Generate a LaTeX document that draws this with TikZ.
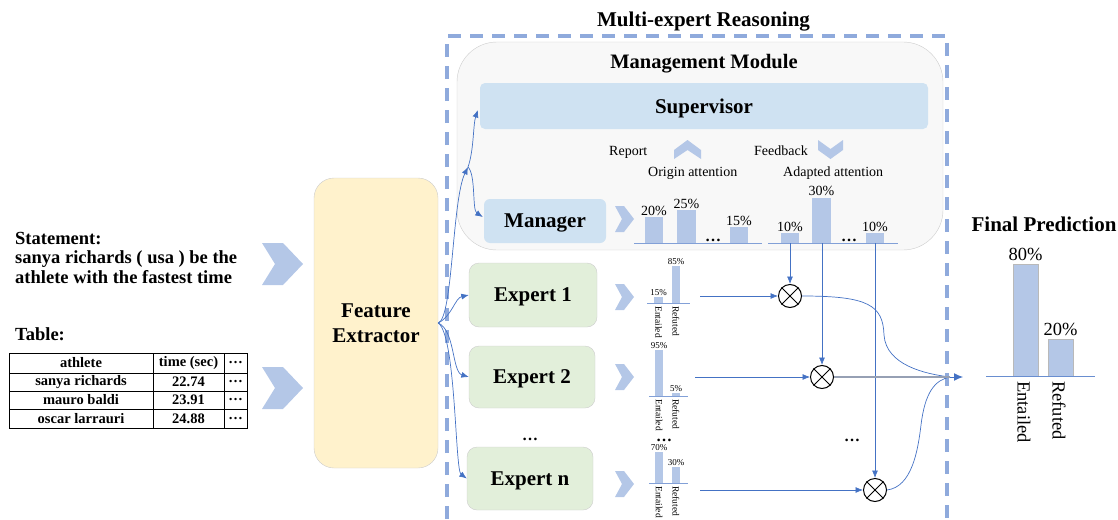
\documentclass[tikz,border=0pt]{standalone}
\usepackage{fontspec}
\setmainfont{Liberation Serif}
\usetikzlibrary{arrows.meta,calc}
\definecolor{barblue}{RGB}{180,199,231}
\definecolor{linkblue}{RGB}{68,114,196}
\definecolor{dashblue}{RGB}{143,170,220}
\definecolor{boxblue}{RGB}{207,226,242}
\definecolor{mgmtfill}{RGB}{248,248,248}
\definecolor{mgmtline}{RGB}{205,205,205}
\definecolor{fefill}{RGB}{255,242,204}
\definecolor{expfill}{RGB}{226,239,218}
\definecolor{axisblue}{RGB}{130,160,215}
\definecolor{greyline}{RGB}{150,160,180}
\newcommand\fsz[1]{\fontsize{#1}{#1}\selectfont}
\newcommand\chevR[6]{\fill[chev] (#1,#2-#4/2) -- (#1+#5,#2-#4/2) -- (#1+#3,#2) -- (#1+#5,#2+#4/2) -- (#1,#2+#4/2) -- (#1+#6,#2) -- cycle;}
\begin{document}
\begin{tikzpicture}[x=1pt,y=-1pt,
  chev/.style={fill=barblue},
  bar/.style={fill=barblue},
  axis/.style={draw=axisblue,line width=0.8pt},
  lnk/.style={draw=linkblue,line width=0.7pt,-{Latex[length=7.5pt,width=6pt]}},
  plain/.style={draw=linkblue,line width=0.7pt},
  otimes/.style={circle,draw=black,line width=1pt,minimum size=23pt,inner sep=0pt},
  bigtitle/.style={font=\bfseries\fsz{21},inner sep=0pt,anchor=base},
  boxtext/.style={font=\bfseries\fsz{21},text depth=0pt,inner sep=0pt},
  lbl/.style={font=\fsz{14},inner sep=0pt,anchor=base},
  mini/.style={font=\fsz{9},inner sep=0pt,anchor=base},
  minirot/.style={font=\fsz{9.5},inner sep=0pt,anchor=west,rotate=-90},
  bigrot/.style={font=\fsz{18.5},inner sep=0pt,anchor=west,rotate=-90},
  stm/.style={font=\bfseries\fsz{18.5},inner sep=0pt,anchor=base west},
  tcell/.style={font=\bfseries\fsz{14.5},inner sep=0pt},
  dotsn/.style={font=\bfseries\fsz{16},inner sep=0pt,anchor=base}
]
\useasboundingbox (0,0) rectangle (1118,519);

% dashed frame
\draw[dashblue,line width=3.8pt,dash pattern=on 13pt off 9pt] (447,519) -- (447,36) -- (947,36) -- (947,519);
\node[bigtitle] (ttl) at (703.5,27) {Multi-expert Reasoning};

% management module
\node[draw=mgmtline,fill=mgmtfill,rounded corners=40pt,minimum width=486pt,minimum height=208pt] (mgmt) at (700,146) {};
\node[font=\bfseries\fsz{20.5},inner sep=0pt,anchor=base] (mgmtt) at (704,68) {Management Module};
\node[boxtext,fill=boxblue,rounded corners=5pt,minimum width=448pt,minimum height=46pt] (sup) at (704,106) {Supervisor};
\node[boxtext,fill=boxblue,rounded corners=6pt,minimum width=122pt,minimum height=44pt] (mgr) at (545,221) {Manager};

\node[lbl,anchor=base west] (rep) at (609,155) {Report};
\node[lbl,anchor=base west] (fb) at (754,155) {Feedback};
\fill[chev] (674,150) -- (687.5,140) -- (701,150) -- (701,159) -- (687.5,150) -- (674,159) -- cycle;
\fill[chev] (818,140) -- (830.5,149) -- (843,140) -- (843,150) -- (830.5,159) -- (818,150) -- cycle;
\node[lbl,anchor=base west] (oa) at (648,176) {Origin attention};
\node[lbl,anchor=base west] (aa) at (783,176) {Adapted attention};

% manager chevron and origin bars
\chevR{615}{219}{19}{26}{9}{7}
\fill[bar] (645,217) rectangle (663,243);
\fill[bar] (677,210) rectangle (696,243);
\fill[bar] (730,227) rectangle (748,243);
\draw[axis] (634,243) -- (762,243);
\node[lbl] (p20) at (654,215) {20\%};
\node[lbl] (p25) at (686.5,208) {25\%};
\node[lbl] (p15) at (739,225) {15\%};
\node[dotsn] (od) at (713,241) {\dots};
% adapted bars
\fill[bar] (781,233) rectangle (799,243);
\fill[bar] (812,198) rectangle (831,243);
\fill[bar] (866,233) rectangle (884,243);
\draw[axis] (768,243) -- (898,243);
\node[lbl] (q10a) at (790,231) {10\%};
\node[lbl] (q30) at (821.5,195) {30\%};
\node[lbl] (q10b) at (875,231) {10\%};
\node[dotsn] (ad) at (849,241) {\dots};

% left inputs
\node[stm] (st1) at (15,244) {Statement:};
\node[stm] (st2) at (15,263.5) {sanya richards ( usa ) be the};
\node[stm] (st3) at (15,283) {athlete with the fastest time};
\node[stm] (tb) at (15,340) {Table:};
\draw[line width=0.6pt] (9,353) rectangle (247,428);
\draw[line width=0.6pt] (9,373) -- (247,373) (9,391) -- (247,391) (9,409) -- (247,409);
\draw[line width=0.6pt] (153,353) -- (153,428) (224,353) -- (224,428);
\node[tcell] (h1) at (81,363) {athlete};
\node[tcell] (h2) at (188.5,363) {time (sec)};
\node[tcell] (h3) at (235.5,363) {\dots};
\node[tcell] (r11) at (81,382) {sanya richards};
\node[tcell] (r12) at (188.5,382) {22.74};
\node[tcell] (r13) at (235.5,382) {\dots};
\node[tcell] (r21) at (81,400) {mauro baldi};
\node[tcell] (r22) at (188.5,400) {23.91};
\node[tcell] (r23) at (235.5,400) {\dots};
\node[tcell] (r31) at (81,418.5) {oscar larrauri};
\node[tcell] (r32) at (188.5,418.5) {24.88};
\node[tcell] (r33) at (235.5,418.5) {\dots};
\chevR{262}{264}{41}{42}{21}{13}
\chevR{262}{388}{41}{42}{21}{13}

% feature extractor
\node[draw=mgmtline,fill=fefill,rounded corners=20pt,minimum width=124pt,minimum height=290pt,
      font=\bfseries\fontsize{21}{25}\selectfont,align=center,text depth=0pt] (fe) at (376,323) {Feature\\Extractor};

% experts
\node[boxtext,draw=mgmtline,fill=expfill,rounded corners=10pt,minimum width=128pt,minimum height=64pt] (e1) at (533,295) {Expert 1};
\node[boxtext,draw=mgmtline,fill=expfill,rounded corners=10pt,minimum width=126pt,minimum height=62pt] (e2) at (532,377) {Expert 2};
\node[boxtext,draw=mgmtline,fill=expfill,rounded corners=10pt,minimum width=126pt,minimum height=63pt] (en) at (530,478.5) {Expert n};
\node[dotsn] (ed) at (530,440) {\dots};
\chevR{615}{297}{19}{26}{9}{7}
\chevR{615}{377}{19}{26}{9}{7}
\chevR{615}{484}{19}{26}{9}{7}

% expert mini charts
\fill[bar] (654,297) rectangle (663,303);
\fill[bar] (672,266) rectangle (680,303);
\draw[axis] (647,303) -- (690,303);
\node[mini] (m15) at (658.5,295) {15\%};
\node[mini] (m85) at (676,264) {85\%};
\node[minirot] (m1e) at (658.5,306) {Entailed};
\node[minirot] (m1r) at (676,306) {Refuted};
\fill[bar] (655,350) rectangle (663,396);
\fill[bar] (672,393) rectangle (680,396);
\draw[axis] (649,396) -- (688,396);
\node[mini] (m95) at (659,348) {95\%};
\node[mini] (m5) at (676,391) {5\%};
\node[minirot] (m2e) at (659,399) {Entailed};
\node[minirot] (m2r) at (676,399) {Refuted};
\node[dotsn] (md) at (664,441) {\dots};
\fill[bar] (655,452) rectangle (663,483);
\fill[bar] (672,467) rectangle (680,483);
\draw[axis] (649,483) -- (688,483);
\node[mini] (m70) at (659,450) {70\%};
\node[mini] (m30) at (676,465) {30\%};
\node[minirot] (m3e) at (659,486) {Entailed};
\node[minirot] (m3r) at (676,486) {Refuted};

% otimes
\node[otimes] (o1) at (790,296) {};
\node[otimes] (o2) at (822,377) {};
\node[otimes] (on) at (875,490) {};
\foreach \o in {o1,o2,on}{
  \draw[line width=1pt] (\o.north west) -- (\o.south east) (\o.north east) -- (\o.south west);
}
\node[dotsn] (rd) at (852,441) {\dots};

% connectors from feature extractor
\coordinate (split) at (468,167);
\draw[lnk] (fe.east) .. controls (453,318) and (452,200) .. (split);
\draw[lnk] (split) .. controls (474,150) and (473,125) .. ($(sup.west)+(-2,4)$);
\draw[lnk] (split) .. controls (476,175) and (472,210) .. ($(mgr.west)+(-1,-4)$);
\draw[lnk] (fe.east) .. controls (452,316) and (455,298) .. (e1.west);
\draw[lnk] (fe.east) .. controls (455,330) and (452,372) .. (e2.west);
\draw[lnk] (fe.east) .. controls (456,335) and (455,470) .. (en.west);

% experts to otimes
\coordinate (c1) at (700,296);
\coordinate (c2) at (695,377);
\coordinate (c3) at (700,490);
\draw[lnk] (c1) -- (o1.west);
\draw[lnk] (c2) -- (o2.west);
\draw[lnk] (c3) -- (on.west);
\coordinate (a1) at (790,243);
\coordinate (a2) at (822,243);
\coordinate (a3) at (875,243);
\draw[lnk] (a1) -- (o1.north);
\draw[lnk] (a2) -- (o2.north);
\draw[lnk] (a3) -- (on.north);

% to final prediction
\coordinate (conv) at (950,377);
\coordinate (fin) at (963,377);
\draw[plain] (o1.east) .. controls (868,296) and (883,305) .. (884,335) .. controls (886,365) and (925,374) .. (conv);
\draw[plain] (on.east) .. controls (912,487) and (918,450) .. (921,425) .. controls (925,392) and (935,380) .. (conv);
\draw[greyline,line width=1.2pt] (o2.east) -- (conv);
\draw[draw=linkblue,line width=1pt,-{Latex[length=9pt,width=8pt]}] (conv) -- (fin);

% final prediction
\node[bigtitle] (fpt) at (1044,231) {Final Prediction};
\fill[bar,draw=gray!55,line width=0.6pt] (1013,264) rectangle (1038,376);
\fill[bar,draw=gray!55,line width=0.6pt] (1048,339) rectangle (1073,376);
\draw[axis,draw=linkblue!80] (986,376) -- (1095,376);
\node[font=\fsz{18.5},inner sep=0pt,anchor=base] (f80) at (1025.5,260) {80\%};
\node[font=\fsz{18.5},inner sep=0pt,anchor=base] (f20) at (1060.5,335) {20\%};
\node[bigrot] (fe1) at (1024,381) {Entailed};
\node[bigrot] (fr1) at (1059,381) {Refuted};
\end{tikzpicture}
\end{document}
